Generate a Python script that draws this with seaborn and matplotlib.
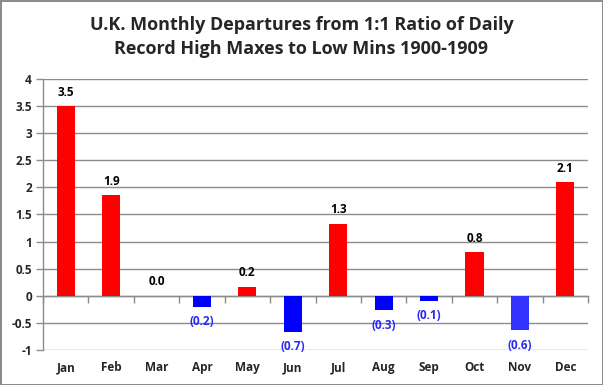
import matplotlib
matplotlib.use("Agg")
import matplotlib.pyplot as plt
import seaborn as sns
import pandas as pd

months = ["Jan", "Feb", "Mar", "Apr", "May", "Jun", "Jul", "Aug", "Sep", "Oct", "Nov", "Dec"]
values = [3.50, 1.86, 0.0, -0.20, 0.17, -0.66, 1.33, -0.26, -0.09, 0.80, -0.64, 2.10]
bar_colors = ["#FF0000", "#FF0000", "#FF0000", "#0000FF", "#FF0000", "#0000FF",
              "#FF0000", "#0000FF", "#0000FF", "#FF0000", "#3333FF", "#FF0000"]
yticks = [-1, -0.5, 0, 0.5, 1, 1.5, 2, 2.5, 3, 3.5, 4]
title = "U.K. Monthly Departures from 1:1 Ratio of Daily\nRecord High Maxes to Low Mins 1900-1909"

sns.set_theme(style="white")
plt.rcParams['font.family'] = ['Open Sans', 'DejaVu Sans']

df = pd.DataFrame({"month": months, "value": values})

fig = plt.figure(figsize=(6.03, 3.85), dpi=100)
fig.patch.set_facecolor("white")
fig.patch.set_edgecolor("#8c8c8c")
fig.patch.set_linewidth(2)
ax = fig.add_axes([43/603, 1-350/385, (588-43)/603, (350-79)/385])

sns.barplot(data=df, x="month", y="value", hue="month", palette=bar_colors,
            legend=False, width=0.4, ax=ax, saturation=1, linewidth=0)

ax.set_ylim(-1, 4)
ax.set_xlim(-0.5, 11.5)
ax.set_yticks(yticks)
ax.set_yticklabels([f"{t:g}" for t in yticks], fontsize=8.5, fontweight="bold")
ax.grid(axis="y", color="#8c8c8c", linewidth=1)
ax.set_axisbelow(True)
for s in ["top", "right", "bottom"]:
    ax.spines[s].set_visible(False)
ax.spines["left"].set_color("#8c8c8c")
ax.spines["left"].set_linewidth(1)
ax.tick_params(axis="y", length=5, color="#8c8c8c", width=1, pad=3, left=True)
ax.tick_params(axis="x", length=0, pad=8)
ax.set_xticks(range(len(months)))
ax.set_xticklabels(months, fontsize=8.5, fontweight="bold")
ax.set_xlabel("")
ax.set_ylabel("")

# zero axis with boundary tick marks
sec = ax.secondary_xaxis(0.2)
sec.set_xticks([i - 0.5 for i in range(len(months) + 1)])
sec.set_xticklabels([])
sec.tick_params(axis="x", direction="out", length=5, color="#8c8c8c", width=1)
sec.spines["bottom"].set_color("#8c8c8c")
sec.spines["bottom"].set_linewidth(1)

for i, v in enumerate(values):
    if v >= 0:
        ax.annotate(f"{v:.1f}", (i, v), xytext=(0, 10), textcoords="offset points",
                    ha="center", va="center", fontsize=8.5, fontweight="bold", color="black")
    else:
        ax.annotate(f"({abs(v):.1f})", (i, v), xytext=(0, -11), textcoords="offset points",
                    ha="center", va="center", fontsize=8.5, fontweight="bold", color="#2a2af0")

fig.text(0.5, 1-37/385, title, ha="center", va="center", fontsize=13,
         fontweight="bold", linespacing=1.4)

fig.savefig("out.png", dpi=100, facecolor=fig.get_facecolor(), edgecolor=fig.get_edgecolor())
